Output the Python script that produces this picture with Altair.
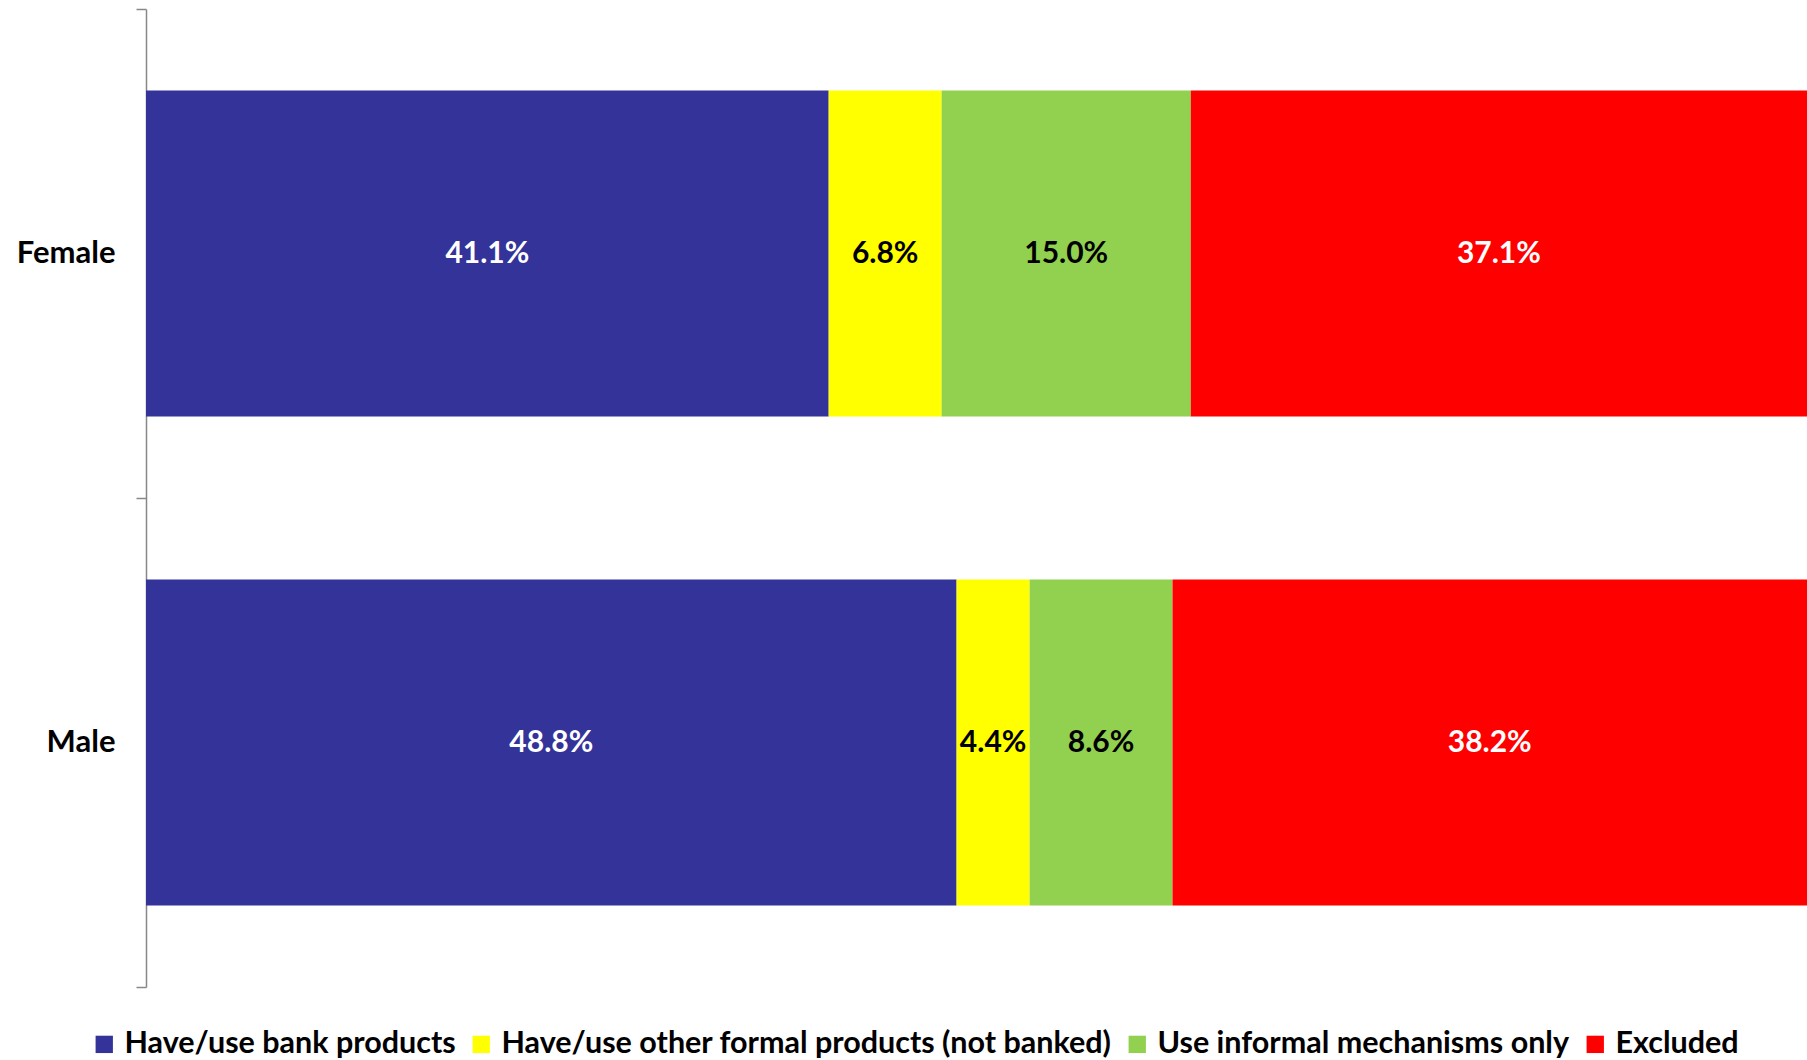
import altair as alt
import pandas as pd

genders = ["Female", "Male"]
categories = [
    "Have/use bank products",
    "Have/use other formal products (not banked)",
    "Use informal mechanisms only",
    "Excluded",
]
female_values = [41.1, 6.8, 15.0, 37.1]
male_values = [48.8, 4.4, 8.6, 38.2]
colors = ["#333399", "#FFFF00", "#92D050", "#FF0000"]
label_colors = ["white", "black", "black", "white"]

rows = []
for g, vals in zip(genders, [female_values, male_values]):
    for i, (c, v) in enumerate(zip(categories, vals)):
        rows.append({"gender": g, "category": c, "value": v, "idx": i,
                     "tc": label_colors[i]})
df = pd.DataFrame(rows)

FONT = "Lato"

x_scale = alt.Scale(domain=[0, 100], nice=False, zero=True)
y_scale = alt.Scale(domain=genders, paddingInner=0, paddingOuter=0)

y_axis = alt.Axis(title=None, grid=False, domainColor="#888888", domainWidth=1.5,
                  tickColor="#888888", tickWidth=1.5, tickSize=10,
                  tickBand="extent", labelFontSize=31,
                  labelFontWeight="bold", labelColor="black",
                  labelFont=FONT, labelPadding=21)

base = alt.Chart(df)

bars = base.mark_bar(height=alt.RelativeBandSize(band=0.667), strokeWidth=0).encode(
    y=alt.Y("gender:N", scale=y_scale, sort=genders, axis=y_axis),
    x=alt.X("value:Q", stack="zero", scale=x_scale, axis=None),
    color=alt.Color("category:N",
                    scale=alt.Scale(domain=categories, range=colors),
                    sort=categories,
                    legend=alt.Legend(title=None, orient="none", direction="horizontal",
                                      legendX=-57, legendY=1020,
                                      symbolType="square", symbolSize=300,
                                      symbolStrokeWidth=0, symbolOpacity=1,
                                      labelFont=FONT,
                                      labelFontSize=30.5, labelFontWeight="bold",
                                      labelColor="black", labelLimit=1000,
                                      labelOffset=5, columnPadding=10, padding=0)),
    order=alt.Order("idx:Q"),
)

labels = base.transform_stack(
    stack="value", groupby=["gender"], as_=["x0", "x1"],
    sort=[alt.SortField("idx", order="ascending")]
).transform_calculate(
    mid="(datum.x0 + datum.x1) / 2",
    lbl="format(datum.value, '.1f') + '%'"
).mark_text(font=FONT, fontSize=30, fontWeight="bold", baseline="middle",
            align="center").encode(
    y=alt.Y("gender:N", scale=y_scale, sort=genders, axis=y_axis),
    x=alt.X("mid:Q", scale=x_scale, axis=None),
    text="lbl:N",
    color=alt.Color("tc:N", scale=None),
)

chart = alt.layer(bars, labels).properties(
    width=1661, height=978,
    background="white",
    autosize=alt.AutoSizeParams(type="none"),
    padding={"left": 146, "top": 9, "right": 0, "bottom": 73},
).configure_view(strokeWidth=0, stroke=None).configure_axis(grid=False)

chart.save("out.html", embed_options={"renderer": "svg", "actions": False})
